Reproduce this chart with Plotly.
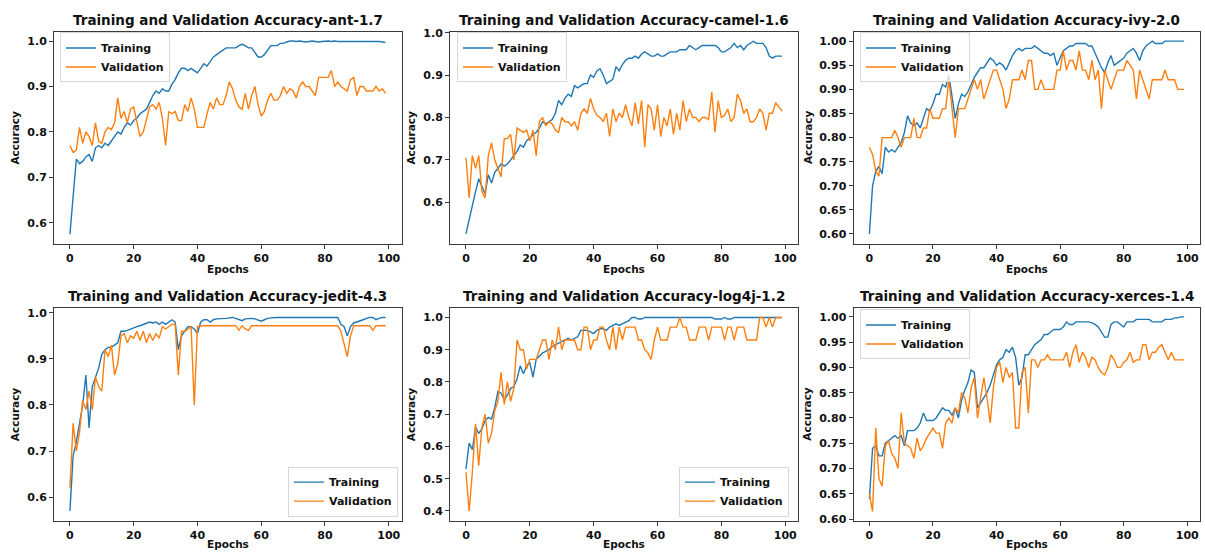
import plotly.graph_objects as go

epochs = list(range(100))

titles = [
    "Training and Validation Accuracy-ant-1.7",
    "Training and Validation Accuracy-camel-1.6",
    "Training and Validation Accuracy-ivy-2.0",
    "Training and Validation Accuracy-jedit-4.3",
    "Training and Validation Accuracy-log4j-1.2",
    "Training and Validation Accuracy-xerces-1.4",
]

ant_train = [
    0.575, 0.65, 0.74, 0.73, 0.735, 0.745, 0.75, 0.735, 0.765, 0.77,
    0.765, 0.775, 0.77, 0.78, 0.79, 0.80, 0.795, 0.81, 0.82, 0.815,
    0.825, 0.83, 0.84, 0.845, 0.85, 0.865, 0.88, 0.89, 0.885, 0.895,
    0.89, 0.89, 0.905, 0.915, 0.93, 0.94, 0.94, 0.935, 0.94, 0.935,
    0.93, 0.94, 0.95, 0.945, 0.955, 0.965, 0.97, 0.975, 0.98, 0.985,
    0.985, 0.985, 0.985, 0.99, 0.993, 0.99, 0.985, 0.985, 0.975, 0.965,
    0.965, 0.97, 0.98, 0.99, 0.99, 0.99, 0.995, 0.995, 0.998, 1.0,
    1.0, 0.999, 1.0, 0.999, 0.998, 0.999, 1.0, 0.999, 0.998, 0.999,
    1.0, 1.0, 0.999, 1.0, 0.999, 0.999, 1.0, 0.999, 1.0, 0.999,
    1.0, 0.999, 0.999, 1.0, 0.999, 0.999, 1.0, 0.999, 0.998, 0.997,
]
ant_val = [
    0.77, 0.755, 0.76, 0.81, 0.775, 0.80, 0.79, 0.77, 0.82, 0.78,
    0.775, 0.80, 0.81, 0.805, 0.82, 0.875, 0.83, 0.845, 0.82, 0.85,
    0.855, 0.82, 0.79, 0.80, 0.83, 0.855, 0.86, 0.85, 0.865, 0.83,
    0.77, 0.845, 0.84, 0.845, 0.825, 0.825, 0.86, 0.845, 0.875, 0.85,
    0.81, 0.81, 0.81, 0.84, 0.865, 0.85, 0.875, 0.86, 0.86, 0.88,
    0.91, 0.895, 0.87, 0.855, 0.85, 0.885, 0.85, 0.88, 0.90, 0.86,
    0.835, 0.845, 0.87, 0.885, 0.87, 0.87, 0.88, 0.90, 0.885, 0.895,
    0.89, 0.875, 0.90, 0.91, 0.90, 0.90, 0.89, 0.88, 0.92, 0.92,
    0.92, 0.92, 0.935, 0.90, 0.91, 0.90, 0.895, 0.89, 0.915, 0.92,
    0.88, 0.90, 0.90, 0.89, 0.89, 0.89, 0.90, 0.89, 0.895, 0.885,
]

camel_train = [
    0.525, 0.56, 0.595, 0.625, 0.655, 0.635, 0.62, 0.665, 0.645, 0.67,
    0.68, 0.69, 0.685, 0.69, 0.70, 0.71, 0.72, 0.735, 0.73, 0.745,
    0.75, 0.76, 0.765, 0.775, 0.79, 0.785, 0.79, 0.795, 0.81, 0.84,
    0.83, 0.845, 0.855, 0.85, 0.875, 0.87, 0.875, 0.88, 0.88, 0.90,
    0.895, 0.91, 0.915, 0.90, 0.88, 0.885, 0.89, 0.92, 0.91, 0.925,
    0.935, 0.94, 0.94, 0.945, 0.94, 0.95, 0.955, 0.95, 0.945, 0.945,
    0.95, 0.945, 0.945, 0.95, 0.955, 0.955, 0.955, 0.96, 0.96, 0.96,
    0.97, 0.965, 0.96, 0.965, 0.97, 0.97, 0.97, 0.97, 0.97, 0.965,
    0.955, 0.955, 0.96, 0.965, 0.975, 0.965, 0.97, 0.96, 0.97, 0.975,
    0.98, 0.975, 0.975, 0.975, 0.965, 0.945, 0.94, 0.945, 0.945, 0.945,
]
camel_val = [
    0.705, 0.61, 0.71, 0.68, 0.71, 0.625, 0.61, 0.71, 0.74, 0.70,
    0.68, 0.66, 0.75, 0.75, 0.76, 0.70, 0.775, 0.77, 0.765, 0.77,
    0.745, 0.77, 0.71, 0.79, 0.80, 0.78, 0.79, 0.785, 0.77, 0.765,
    0.80, 0.79, 0.79, 0.78, 0.79, 0.77, 0.81, 0.82, 0.81, 0.845,
    0.82, 0.805, 0.80, 0.79, 0.81, 0.755, 0.82, 0.79, 0.81, 0.80,
    0.83, 0.80, 0.78, 0.835, 0.785, 0.84, 0.73, 0.83, 0.82, 0.77,
    0.83, 0.755, 0.80, 0.78, 0.82, 0.76, 0.81, 0.77, 0.84, 0.79,
    0.82, 0.80, 0.80, 0.79, 0.80, 0.80, 0.795, 0.86, 0.765, 0.84,
    0.80, 0.805, 0.82, 0.79, 0.80, 0.855, 0.84, 0.81, 0.82, 0.79,
    0.79, 0.80, 0.82, 0.81, 0.77, 0.81, 0.81, 0.835, 0.825, 0.815,
]

ivy_train = [
    0.60, 0.70, 0.73, 0.74, 0.725, 0.78, 0.77, 0.775, 0.77, 0.78,
    0.79, 0.81, 0.845, 0.83, 0.825, 0.83, 0.82, 0.84, 0.86, 0.855,
    0.87, 0.89, 0.89, 0.91, 0.905, 0.93, 0.88, 0.84, 0.87, 0.89,
    0.885, 0.895, 0.91, 0.925, 0.935, 0.945, 0.945, 0.955, 0.965, 0.96,
    0.95, 0.955, 0.95, 0.94, 0.955, 0.97, 0.98, 0.985, 0.98, 0.985,
    0.985, 0.985, 0.99, 0.985, 0.98, 0.975, 0.975, 0.97, 0.975, 0.95,
    0.965, 0.98, 0.985, 0.99, 0.99, 0.995, 0.995, 0.995, 0.995, 0.99,
    0.99, 0.975, 0.96, 0.945, 0.935, 0.955, 0.97, 0.95, 0.955, 0.96,
    0.965, 0.975, 0.98, 0.985, 0.975, 0.96, 0.98, 0.99, 0.995, 1.0,
    0.995, 0.995, 0.995, 1.0, 1.0, 1.0, 1.0, 1.0, 1.0, 1.0,
]
ivy_val = [
    0.78, 0.765, 0.73, 0.72, 0.80, 0.80, 0.80, 0.80, 0.815, 0.80,
    0.78, 0.80, 0.80, 0.80, 0.84, 0.80, 0.80, 0.82, 0.82, 0.86,
    0.84, 0.84, 0.84, 0.86, 0.86, 0.92, 0.86, 0.80, 0.86, 0.86,
    0.86, 0.88, 0.90, 0.92, 0.90, 0.92, 0.88, 0.90, 0.92, 0.94,
    0.94, 0.92, 0.90, 0.86, 0.88, 0.92, 0.92, 0.92, 0.94, 0.92,
    0.96, 0.96, 0.90, 0.90, 0.92, 0.90, 0.90, 0.90, 0.90, 0.94,
    0.94, 0.98, 0.94, 0.96, 0.96, 0.94, 0.98, 0.94, 0.94, 0.92,
    0.96, 0.92, 0.94, 0.86, 0.94, 0.92, 0.90, 0.92, 0.94, 0.94,
    0.94, 0.96, 0.95, 0.94, 0.88, 0.94, 0.92, 0.90, 0.88, 0.92,
    0.92, 0.92, 0.92, 0.94, 0.92, 0.92, 0.92, 0.90, 0.90, 0.90,
]

jedit_train = [
    0.57, 0.69, 0.72, 0.76, 0.80, 0.865, 0.75, 0.84, 0.86, 0.88,
    0.91, 0.92, 0.925, 0.925, 0.93, 0.935, 0.96, 0.96, 0.962, 0.965,
    0.967, 0.97, 0.972, 0.975, 0.978, 0.98, 0.978, 0.98, 0.975, 0.98,
    0.975, 0.98, 0.985, 0.98, 0.92, 0.95, 0.96, 0.97, 0.97, 0.965,
    0.955, 0.98, 0.985, 0.985, 0.98, 0.985, 0.987, 0.987, 0.988, 0.988,
    0.989, 0.99, 0.988, 0.985, 0.983, 0.987, 0.988, 0.988, 0.987, 0.985,
    0.982, 0.985, 0.988, 0.989, 0.99, 0.99, 0.99, 0.99, 0.99, 0.99,
    0.99, 0.99, 0.99, 0.99, 0.99, 0.99, 0.99, 0.99, 0.99, 0.99,
    0.99, 0.99, 0.99, 0.99, 0.99, 0.975, 0.97, 0.95, 0.97, 0.978,
    0.98, 0.982, 0.985, 0.988, 0.99, 0.99, 0.985, 0.988, 0.99, 0.99,
]
jedit_val = [
    0.62, 0.76, 0.70, 0.74, 0.81, 0.79, 0.83, 0.79, 0.86, 0.84,
    0.83, 0.92, 0.905, 0.93, 0.865, 0.89, 0.95, 0.955, 0.935, 0.95,
    0.945, 0.96, 0.94, 0.96, 0.935, 0.955, 0.94, 0.955, 0.945, 0.97,
    0.965, 0.97, 0.975, 0.975, 0.865, 0.96, 0.96, 0.965, 0.97, 0.80,
    0.97, 0.972, 0.972, 0.972, 0.972, 0.972, 0.972, 0.972, 0.972, 0.972,
    0.972, 0.972, 0.972, 0.962, 0.972, 0.965, 0.962, 0.972, 0.972, 0.972,
    0.972, 0.972, 0.972, 0.972, 0.972, 0.972, 0.972, 0.972, 0.972, 0.972,
    0.972, 0.972, 0.972, 0.972, 0.972, 0.972, 0.972, 0.972, 0.972, 0.972,
    0.972, 0.972, 0.972, 0.972, 0.972, 0.96, 0.93, 0.905, 0.95, 0.972,
    0.972, 0.972, 0.972, 0.972, 0.972, 0.962, 0.972, 0.972, 0.972, 0.972,
]

log4j_train = [
    0.53, 0.61, 0.59, 0.66, 0.64, 0.655, 0.68, 0.69, 0.685, 0.72,
    0.77, 0.765, 0.745, 0.76, 0.78, 0.785, 0.81, 0.85, 0.825, 0.85,
    0.86, 0.815, 0.87, 0.88, 0.89, 0.895, 0.90, 0.91, 0.915, 0.92,
    0.925, 0.93, 0.935, 0.93, 0.935, 0.94, 0.96, 0.96, 0.96, 0.955,
    0.95, 0.96, 0.965, 0.965, 0.96, 0.97, 0.975, 0.98, 0.975, 0.98,
    0.985, 0.99, 1.0, 1.0, 0.995, 0.995, 1.0, 1.0, 1.0, 1.0,
    1.0, 1.0, 1.0, 1.0, 1.0, 1.0, 1.0, 1.0, 1.0, 1.0,
    1.0, 1.0, 1.0, 1.0, 1.0, 1.0, 1.0, 1.0, 0.995, 0.995,
    0.995, 1.0, 0.995, 0.995, 1.0, 1.0, 1.0, 1.0, 1.0, 1.0,
    1.0, 1.0, 1.0, 1.0, 1.0, 1.0, 1.0, 1.0, 1.0, 1.0,
]
log4j_val = [
    0.52, 0.40, 0.52, 0.67, 0.54, 0.66, 0.70, 0.61, 0.64, 0.71,
    0.74, 0.83, 0.73, 0.80, 0.74, 0.78, 0.93, 0.90, 0.90, 0.84,
    0.87, 0.87, 0.87, 0.90, 0.93, 0.93, 0.87, 0.93, 0.90, 0.97,
    0.90, 0.93, 0.93, 0.93, 0.93, 0.90, 0.90, 0.97, 0.97, 0.90,
    0.93, 0.93, 0.97, 0.97, 0.93, 0.90, 0.97, 0.90, 0.97, 0.93,
    0.97, 0.97, 0.97, 0.97, 0.93, 0.93, 0.90, 0.89, 0.87, 0.93,
    0.97, 0.93, 0.93, 0.93, 0.97, 0.97, 0.97, 1.0, 0.97, 0.97,
    0.93, 0.93, 0.93, 0.97, 0.97, 0.97, 0.93, 0.97, 0.97, 0.97,
    0.97, 0.93, 0.97, 0.97, 0.93, 0.97, 0.97, 0.97, 0.93, 0.93,
    0.93, 0.93, 1.0, 1.0, 0.97, 1.0, 0.97, 1.0, 1.0, 1.0,
]

xerces_train = [
    0.64, 0.74, 0.745, 0.725, 0.725, 0.75, 0.755, 0.76, 0.765, 0.76,
    0.765, 0.745, 0.775, 0.775, 0.775, 0.78, 0.79, 0.81, 0.795, 0.795,
    0.795, 0.80, 0.81, 0.82, 0.815, 0.815, 0.805, 0.82, 0.80, 0.835,
    0.855, 0.87, 0.895, 0.89, 0.82, 0.83, 0.84, 0.85, 0.865, 0.885,
    0.905, 0.915, 0.92, 0.935, 0.93, 0.94, 0.92, 0.865, 0.88, 0.925,
    0.925, 0.935, 0.945, 0.95, 0.955, 0.965, 0.965, 0.97, 0.975, 0.975,
    0.975, 0.98, 0.99, 0.985, 0.985, 0.99, 0.99, 0.99, 0.99, 0.99,
    0.988, 0.985, 0.98, 0.97, 0.96, 0.96, 0.985, 0.99, 0.99, 0.985,
    0.98, 0.99, 0.99, 0.99, 0.995, 0.995, 0.995, 0.995, 0.995, 0.99,
    0.99, 0.99, 0.99, 0.995, 0.995, 0.995, 0.998, 0.998, 1.0, 1.0,
]
xerces_val = [
    0.65, 0.615, 0.78, 0.68, 0.665, 0.745, 0.755, 0.73, 0.72, 0.70,
    0.81, 0.75, 0.745, 0.74, 0.72, 0.76, 0.735, 0.745, 0.76, 0.77,
    0.78, 0.77, 0.77, 0.74, 0.79, 0.80, 0.79, 0.82, 0.81, 0.85,
    0.84, 0.81, 0.86, 0.88, 0.80, 0.84, 0.88, 0.84, 0.79, 0.86,
    0.90, 0.91, 0.87, 0.90, 0.88, 0.89, 0.78, 0.78, 0.89, 0.90,
    0.81, 0.915, 0.915, 0.90, 0.915, 0.915, 0.925, 0.915, 0.915, 0.915,
    0.915, 0.915, 0.93, 0.90, 0.93, 0.945, 0.91, 0.93, 0.92, 0.90,
    0.92, 0.915, 0.90, 0.89, 0.885, 0.90, 0.925, 0.915, 0.90, 0.90,
    0.91, 0.915, 0.93, 0.91, 0.915, 0.915, 0.945, 0.945, 0.915, 0.93,
    0.93, 0.94, 0.945, 0.93, 0.915, 0.93, 0.915, 0.915, 0.915, 0.915,
]

train_series = [ant_train, camel_train, ivy_train, jedit_train, log4j_train, xerces_train]
val_series = [ant_val, camel_val, ivy_val, jedit_val, log4j_val, xerces_val]
for s in train_series + val_series:
    assert len(s) == 100, len(s)

y_ranges = [[0.554, 1.021], [0.502, 1.003], [0.58, 1.02],
            [0.549, 1.011], [0.37, 1.03], [0.597, 1.018]]
y_dticks = [0.1, 0.1, 0.05, 0.1, 0.1, 0.05]
y_formats = [".1f", ".1f", ".2f", ".1f", ".1f", ".2f"]

W, H = 1205, 557
col_px = [(54, 401.5), (450, 798), (853.5, 1200)]
row_px = [(27, 243), (308.3, 525)]
legend_pos = [
    dict(x=60 / W, y=1 - 28 / H, xanchor="left", yanchor="top"),
    dict(x=457 / W, y=1 - 28 / H, xanchor="left", yanchor="top"),
    dict(x=860 / W, y=1 - 28 / H, xanchor="left", yanchor="top"),
    dict(x=398 / W, y=1 - 521 / H, xanchor="right", yanchor="bottom"),
    dict(x=789 / W, y=1 - 521 / H, xanchor="right", yanchor="bottom"),
    dict(x=860 / W, y=1 - 310 / H, xanchor="left", yanchor="top"),
]

BLUE = "#1f77b4"
ORANGE = "#ff7f0e"
FRAME = "#3a3a3a"
FONT = "DejaVu Sans"

fig = go.Figure()
layout = dict(
    width=W, height=H,
    margin=dict(l=0, r=0, t=0, b=0),
    paper_bgcolor="white", plot_bgcolor="white",
    font=dict(family=FONT, size=11, color="#111", weight="bold"),
    annotations=[],
)

for i in range(6):
    n = i + 1
    sfx = "" if n == 1 else str(n)
    r, c = divmod(i, 3)
    legend_name = "legend" + sfx
    fig.add_trace(go.Scatter(
        x=epochs, y=train_series[i], mode="lines", name="Training",
        line=dict(color=BLUE, width=1.4),
        xaxis="x" + sfx, yaxis="y" + sfx, legend=legend_name,
    ))
    fig.add_trace(go.Scatter(
        x=epochs, y=val_series[i], mode="lines", name="Validation",
        line=dict(color=ORANGE, width=1.4),
        xaxis="x" + sfx, yaxis="y" + sfx, legend=legend_name,
    ))

    x0, x1 = col_px[c]
    y0, y1 = row_px[r]
    axis_common = dict(
        showgrid=False, zeroline=False, showline=True, mirror=True,
        linecolor=FRAME, linewidth=1, ticks="outside", ticklen=4,
        tickwidth=1, tickcolor=FRAME,
        tickfont=dict(family=FONT, size=11, color="#111", weight="bold"),
    )
    layout["xaxis" + sfx] = dict(
        axis_common, domain=[x0 / W, x1 / W], anchor="y" + sfx,
        range=[-5, 104], tickmode="linear", tick0=0, dtick=20,
    )
    layout["yaxis" + sfx] = dict(
        axis_common, domain=[1 - y1 / H, 1 - y0 / H], anchor="x" + sfx,
        range=y_ranges[i], tickmode="linear", tick0=0, dtick=y_dticks[i],
        tickformat=y_formats[i],
    )
    layout[legend_name] = dict(
        legend_pos[i], bgcolor="rgba(255,255,255,0.8)",
        bordercolor="#d8d8d8", borderwidth=1,
        font=dict(family=FONT, size=11, color="#111", weight="bold"),
        tracegroupgap=0, itemwidth=30,
    )

    xd = ("x" + sfx) + " domain"
    yd = ("y" + sfx) + " domain"
    layout["annotations"].append(dict(
        text=titles[i], xref=xd, yref=yd, x=0.5, y=1, yshift=12,
        xanchor="center", yanchor="middle", showarrow=False,
        font=dict(family=FONT, size=13.5, color="#111", weight="bold"),
    ))
    layout["annotations"].append(dict(
        text="Epochs", xref=xd, yref=yd, x=0.5, y=0,
        yshift=-25 if r == 0 else -23,
        xanchor="center", yanchor="middle", showarrow=False,
        font=dict(family=FONT, size=10.5, color="#111", weight="bold"),
    ))
    layout["annotations"].append(dict(
        text="Accuracy", xref=xd, yref=yd, x=0, y=0.5,
        xshift=-46 if c == 2 else -39, textangle=-90,
        xanchor="center", yanchor="middle", showarrow=False,
        font=dict(family=FONT, size=10.5, color="#111", weight="bold"),
    ))

fig.update_layout(layout)
fig.write_html("out.html")
